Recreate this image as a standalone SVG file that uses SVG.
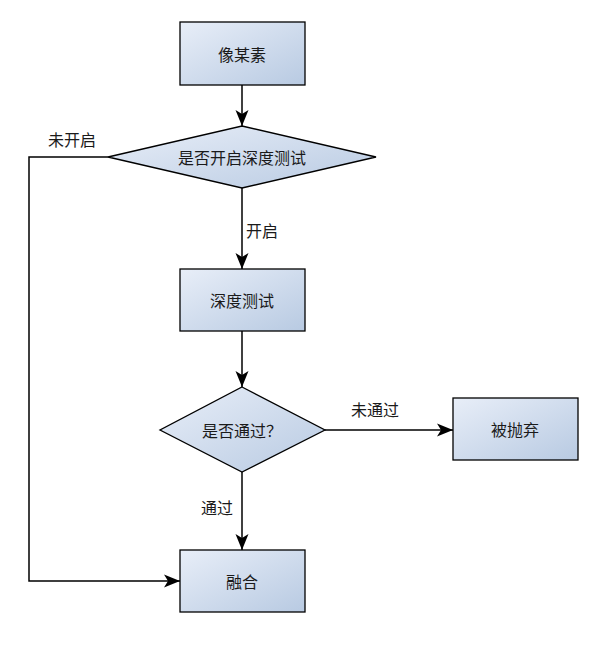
<svg xmlns="http://www.w3.org/2000/svg" width="597" height="650" viewBox="0 0 597 650">
<style>
.n{stroke:#000;stroke-width:1.3;fill:url(#g)}
.t{font-family:"Noto Sans CJK SC","Liberation Serif",serif;font-size:16px;fill:#1a1a1a;text-anchor:middle;dominant-baseline:central}
.c{stroke:#000;stroke-width:1.5;fill:none;marker-end:url(#a)}
</style>
<defs>
<linearGradient id="g" x1="0" y1="0" x2="1" y2="1">
<stop offset="0" stop-color="#e8eef8"/>
<stop offset="1" stop-color="#b8cae2"/>
</linearGradient>
<marker id="a" markerWidth="17" markerHeight="14" refX="16" refY="7" orient="auto" markerUnits="userSpaceOnUse">
<path d="M0,0.5 L16,7 L0,13.5 L4,7 Z" fill="#000"/>
</marker>
</defs>
<rect width="597" height="650" fill="#fff"/>
<g id="connectors">
<path class="c" d="M242,85 V126"/>
<path class="c" d="M242,188 V269"/>
<path class="c" d="M242,331 V387"/>
<path class="c" d="M325,430 H453"/>
<path class="c" d="M242,472 V550"/>
<path class="c" d="M108,157 H29 V581 H180"/>
<text class="t" x="72" y="139">未开启</text>
<text class="t" x="262" y="230">开启</text>
<text class="t" x="375" y="409">未通过</text>
<text class="t" x="217" y="507">通过</text>
</g>
<g id="n1"><rect class="n" x="180" y="22" width="125" height="63"/><text class="t" x="242" y="54">像某素</text></g>
<g id="n2"><polygon class="n" points="242,126 376,157 242,188 108,157"/><text class="t" x="242" y="157">是否开启深度测试</text></g>
<g id="n3"><rect class="n" x="180" y="269" width="125" height="62"/><text class="t" x="242" y="300">深度测试</text></g>
<g id="n4"><polygon class="n" points="242,387 325,430 242,472 160,430"/><text class="t" x="242" y="430">是否通过？</text></g>
<g id="n5"><rect class="n" x="453" y="398" width="125" height="62"/><text class="t" x="515" y="429">被抛弃</text></g>
<g id="n6"><rect class="n" x="180" y="550" width="125" height="62"/><text class="t" x="242" y="581">融合</text></g>
</svg>
